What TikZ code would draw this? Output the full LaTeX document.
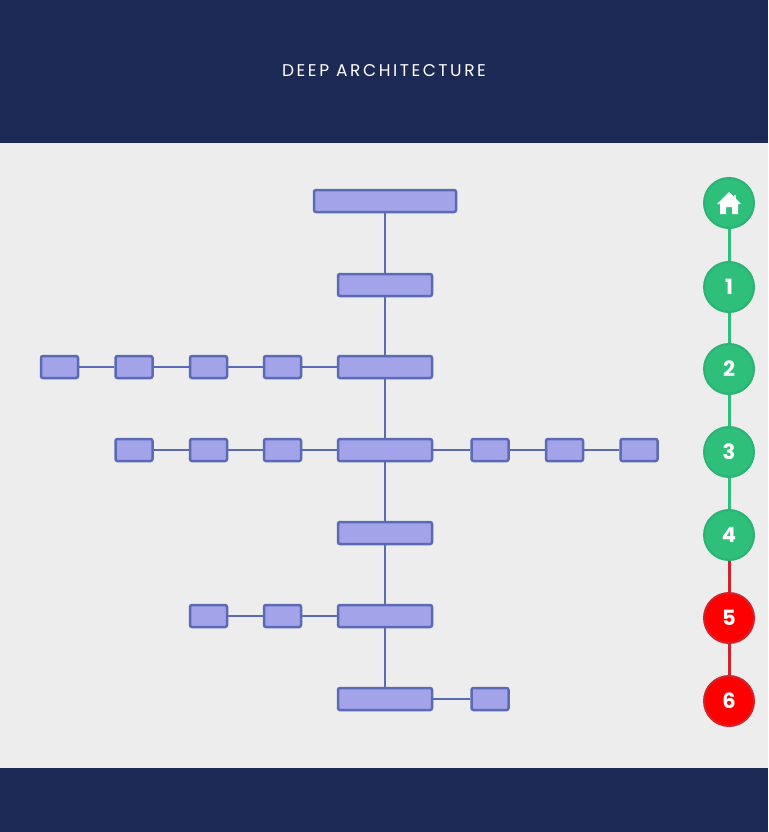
\documentclass[tikz,border=0pt]{standalone}
\usepackage{fontspec}
\setmainfont{Poppins}
\definecolor{navy}{HTML}{1B2954}
\definecolor{bg}{HTML}{EDEDED}
\definecolor{boxfill}{HTML}{A3A3EA}
\definecolor{boxline}{HTML}{5B6AB4}
\definecolor{gfill}{HTML}{2EBF7B}
\definecolor{gline}{HTML}{2AB373}
\definecolor{rfill}{HTML}{FF0000}
\definecolor{rline}{HTML}{D3222A}
\tikzset{
  blk/.style={draw=boxline, fill=boxfill, line width=2.5pt, rounded corners=2pt, inner sep=0pt, minimum height=22pt},
  big/.style={blk, minimum width=142pt},
  mid/.style={blk, minimum width=94pt},
  sml/.style={blk, minimum width=37pt},
  link/.style={draw=boxline, line width=2.5pt},
  gcirc/.style={circle, draw=gline, fill=gfill, line width=2pt, minimum size=50pt, inner sep=0pt, text=white, font=\fontsize{21}{21}\selectfont\bfseries},
  rcirc/.style={circle, draw=rline, fill=rfill, line width=2pt, minimum size=50pt, inner sep=0pt, text=white, font=\fontsize{21}{21}\selectfont\bfseries},
  glink/.style={draw=gfill, line width=3pt},
  rlink/.style={draw=rline, line width=3pt},
}
\begin{document}
\begin{tikzpicture}[x=1pt,y=-1pt]
\useasboundingbox (0,0) rectangle (768,832);
\fill[bg] (0,0) rectangle (768,832);
\fill[navy] (0,0) rectangle (768,143);
\fill[navy] (0,768) rectangle (768,832);
\node[text=white, font=\fontsize{17}{18}\selectfont\addfontfeatures{LetterSpace=15}] (title) at (384,71) {DEEP ARCHITECTURE};

% main column
\node[big] (t) at (385,201) {};
\node[mid] (m2) at (385,285) {};
\node[mid] (m3) at (385,367) {};
\node[mid] (m4) at (385,450) {};
\node[mid] (m5) at (385,533) {};
\node[mid] (m6) at (385,616) {};
\node[mid] (m7) at (385,699) {};
\draw[link] (t) -- (m2) -- (m3) -- (m4) -- (m5) -- (m6) -- (m7);

% row 3
\node[sml] (a1) at (59.5,367) {};
\node[sml] (a2) at (134,367) {};
\node[sml] (a3) at (208.5,367) {};
\node[sml] (a4) at (282.5,367) {};
\draw[link] (a1) -- (a2) -- (a3) -- (a4) -- (m3);

% row 4
\node[sml] (b1) at (134,450) {};
\node[sml] (b2) at (208.5,450) {};
\node[sml] (b3) at (282.5,450) {};
\node[sml] (b4) at (490,450) {};
\node[sml] (b5) at (564.5,450) {};
\node[sml] (b6) at (639,450) {};
\draw[link] (b1) -- (b2) -- (b3) -- (m4) -- (b4) -- (b5) -- (b6);

% row 6
\node[sml] (c1) at (208.5,616) {};
\node[sml] (c2) at (282.5,616) {};
\draw[link] (c1) -- (c2) -- (m6);

% row 7
\node[sml] (d1) at (490,699) {};
\draw[link] (m7) -- (d1);

% progress circles
\draw[glink] (729,203) -- (729,535);
\draw[rlink] (729,535) -- (729,701);
\node[gcirc] (home) at (729,203) {};
\node[gcirc] (n1) at (729,287) {1};
\node[gcirc] (n2) at (729,369) {2};
\node[gcirc] (n3) at (729,452) {3};
\node[gcirc] (n4) at (729,535) {4};
\node[rcirc] (n5) at (729,618) {5};
\node[rcirc] (n6) at (729,701) {6};
% house icon
\fill[white] (733.5,195) rectangle (736,199.5);
\fill[white] (717,204) -- (729,192) -- (741,204) -- (738,204) -- (738,214) -- (732,214) -- (732,207) -- (726,207) -- (726,214) -- (720,214) -- (720,204) -- cycle;
\end{tikzpicture}
\end{document}
